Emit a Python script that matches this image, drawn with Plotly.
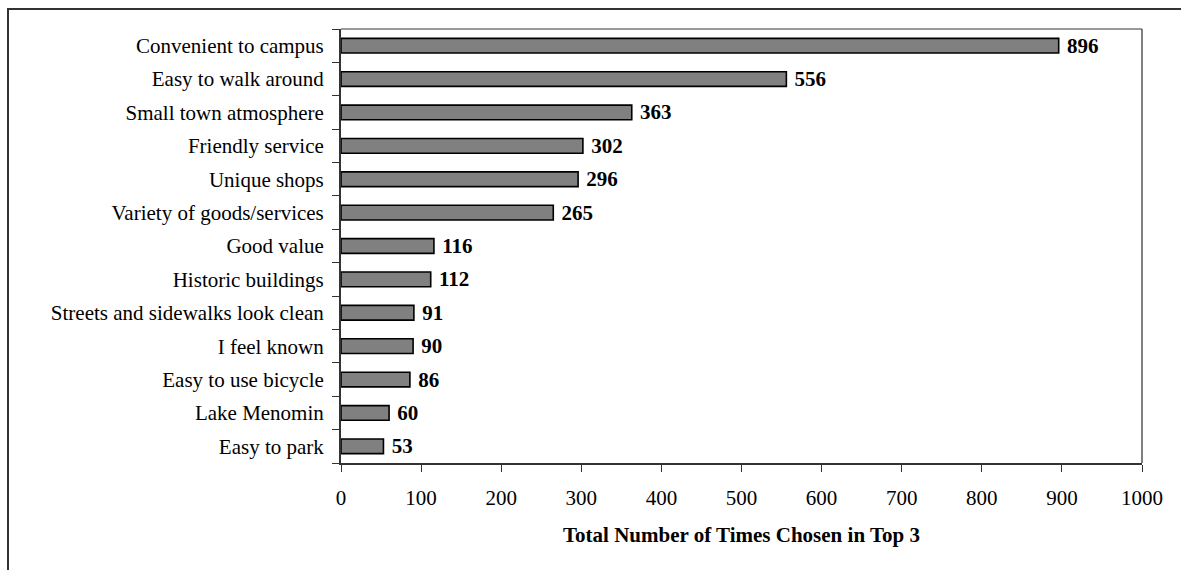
import plotly.graph_objects as go

categories = [
    "Convenient to campus",
    "Easy to walk around",
    "Small town atmosphere",
    "Friendly service",
    "Unique shops",
    "Variety of goods/services",
    "Good value",
    "Historic buildings",
    "Streets and sidewalks look clean",
    "I feel known",
    "Easy to use bicycle",
    "Lake Menomin",
    "Easy to park",
]
counts = [896, 556, 363, 302, 296, 265, 116, 112, 91, 90, 86, 60, 53]
x_ticks = [0, 100, 200, 300, 400, 500, 600, 700, 800, 900, 1000]

W, H = 1181, 570
L, R, T, B = 341, 39, 29, 107
pw, ph = W - L - R, H - T - B

FONT = "Liberation Serif, Times New Roman, serif"

fig = go.Figure(
    go.Bar(
        x=counts,
        y=categories,
        orientation="h",
        width=0.44,
        marker=dict(color="#808080", line=dict(color="#000000", width=1.6)),
        text=[f"<b> {v}</b>" for v in counts],
        textposition="outside",
        constraintext="none",
        textfont=dict(family=FONT, size=21, color="#000000"),
        cliponaxis=False,
        hoverinfo="skip",
    )
)

# outer frame around the whole chart
fig.add_shape(
    type="rect",
    xref="paper", yref="paper",
    x0=(8 - L) / pw, x1=(W + 20 - L) / pw,
    y0=-(H + 20 - (H - B)) / ph, y1=((H - B) - 9) / ph,
    line=dict(color="#333333", width=2),
    fillcolor="rgba(0,0,0,0)",
    layer="below",
)

fig.update_layout(
    width=W, height=H,
    margin=dict(l=L, r=R, t=T, b=B, pad=0),
    paper_bgcolor="#ffffff",
    plot_bgcolor="#ffffff",
    font=dict(family=FONT, color="#000000"),
    showlegend=False,
    uniformtext=dict(mode=False),
)

fig.update_xaxes(
    range=[0, 1000],
    tickvals=x_ticks,
    ticktext=[str(v) for v in x_ticks],
    tickfont=dict(size=21, family=FONT),
    ticks="outside", ticklen=7, tickwidth=1, tickcolor="#333333",
    ticklabelstandoff=8,
    showgrid=False, zeroline=False,
    showline=True, linecolor="#333333", linewidth=2,
    title=dict(text="<b>Total Number of Times Chosen in Top 3</b>",
               font=dict(size=21, family=FONT), standoff=18),
    fixedrange=True,
)
fig.update_yaxes(
    categoryorder="array",
    categoryarray=categories[::-1],
    tickfont=dict(size=21, family=FONT),
    ticks="outside", ticklen=7, tickwidth=1, tickcolor="#333333",
    tickson="boundaries",
    showgrid=False, zeroline=False,
    showline=True, linecolor="#333333", linewidth=2,
    ticklabelstandoff=11,
    fixedrange=True,
)

# thin top and right border of the plot area
fig.add_shape(type="line", xref="paper", yref="paper", x0=0, x1=1, y0=1, y1=1,
              line=dict(color="#777777", width=1.5))
fig.add_shape(type="line", xref="paper", yref="paper", x0=1, x1=1, y0=0, y1=1,
              line=dict(color="#555555", width=1.5))

fig.write_html("out.html")
